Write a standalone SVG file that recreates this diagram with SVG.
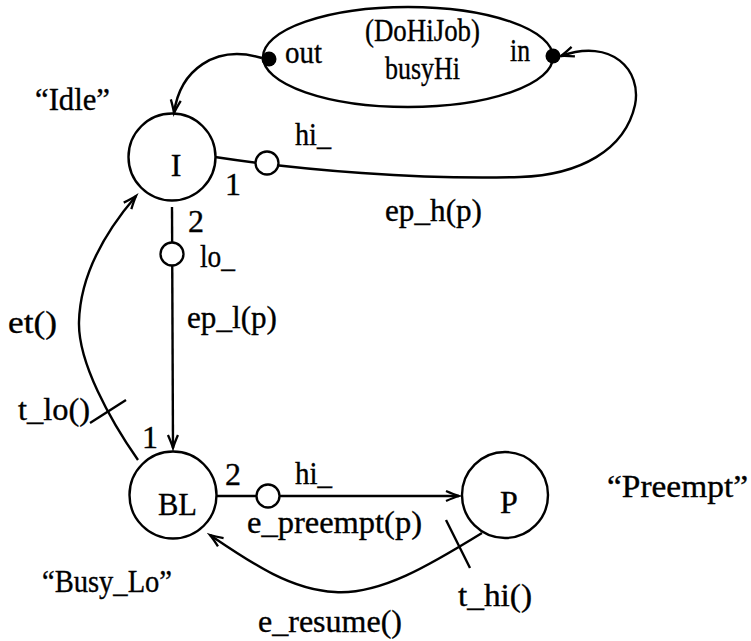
<svg xmlns="http://www.w3.org/2000/svg" width="751" height="641" viewBox="0 0 751 641">
<style>
.t{font-family:'Liberation Serif','DejaVu Serif',serif;font-size:32px;fill:#000}
.t text{stroke:#000;stroke-width:0.35}
.n{fill:none;stroke:#000;stroke-width:2.4}
.c{fill:none;stroke:#000;stroke-width:2.4}
.p{fill:#fff;stroke:#000;stroke-width:2.3}
.mid{text-anchor:middle}
</style>
<defs>
<marker id="arr" markerUnits="userSpaceOnUse" markerWidth="20" markerHeight="16" viewBox="-14 -8 16 16" refX="0" refY="0" orient="auto">
<path d="M-13,-5 Q-5,-1.5 0,0 Q-5,1.5 -13,5" fill="none" stroke="#000" stroke-width="2.3"/>
</marker>
</defs>
<g id="node-busyHi" class="t">
<ellipse class="n" cx="408" cy="57" rx="145" ry="50"/>
<text x="365" y="41" textLength="115" lengthAdjust="spacingAndGlyphs">(DoHiJob)</text>
<text x="385" y="79" textLength="75" lengthAdjust="spacingAndGlyphs">busyHi</text>
<text x="285" y="63" textLength="37" lengthAdjust="spacingAndGlyphs">out</text>
<text x="510" y="61" textLength="20" lengthAdjust="spacingAndGlyphs">in</text>
<circle cx="269" cy="59" r="7.5" fill="#000"/>
<circle cx="553" cy="56" r="7.5" fill="#000"/>
</g>
<g id="node-I" class="t">
<circle class="n" cx="172" cy="157" r="43.5"/>
<text class="mid" x="176" y="176">I</text>
<text x="35" y="110" textLength="75" lengthAdjust="spacingAndGlyphs">“Idle”</text>
</g>
<g id="node-BL" class="t">
<circle class="n" cx="173" cy="495" r="43.5"/>
<text x="158" y="515" textLength="39" lengthAdjust="spacingAndGlyphs">BL</text>
<text x="42" y="592" textLength="130" lengthAdjust="spacingAndGlyphs">“Busy_Lo”</text>
</g>
<g id="node-P" class="t">
<circle class="n" cx="505" cy="495" r="43"/>
<text class="mid" x="509" y="513">P</text>
<text x="607" y="497" textLength="141" lengthAdjust="spacingAndGlyphs">“Preempt”</text>
</g>
<g id="connectors" class="t">
<path class="c" d="M262,58 C215,44 180,70 174,113" marker-end="url(#arr)"/>
<path class="c" d="M215,157 C300,170 420,180 520,177 C580,175 625,150 635,105 C642,70 612,38 561,56" marker-end="url(#arr)"/>
<circle class="p" cx="267" cy="163" r="11.5"/>
<text x="295" y="145" textLength="36" lengthAdjust="spacingAndGlyphs">hi_</text>
<text x="225" y="195">1</text>
<text x="385" y="221" textLength="97" lengthAdjust="spacingAndGlyphs">ep_h(p)</text>
<path class="c" d="M172,207 L173,448" marker-end="url(#arr)"/>
<circle class="p" cx="172" cy="254" r="11.5"/>
<text x="188" y="232">2</text>
<text x="200" y="267" textLength="35" lengthAdjust="spacingAndGlyphs">lo_</text>
<text x="187" y="328" textLength="90" lengthAdjust="spacingAndGlyphs">ep_l(p)</text>
<path class="c" d="M138,460 C110,420 78,362 79,322 C80,280 100,238 136,196" marker-end="url(#arr)"/>
<line class="c" x1="90" y1="423" x2="126" y2="400"/>
<text x="8" y="333" textLength="49" lengthAdjust="spacingAndGlyphs">et()</text>
<text x="18" y="420" textLength="72" lengthAdjust="spacingAndGlyphs">t_lo()</text>
<text x="142" y="448">1</text>
<path class="c" d="M217,496 L459,496" marker-end="url(#arr)"/>
<circle class="p" cx="268" cy="496" r="11.5"/>
<text x="225" y="485">2</text>
<text x="295" y="484" textLength="37" lengthAdjust="spacingAndGlyphs">hi_</text>
<text x="247" y="533" textLength="175" lengthAdjust="spacingAndGlyphs">e_preempt(p)</text>
<path class="c" d="M482,533 C430,565 380,595 335,592 C290,590 250,562 210,535" marker-end="url(#arr)"/>
<line class="c" x1="446" y1="520" x2="470" y2="568"/>
<text x="458" y="606" textLength="74" lengthAdjust="spacingAndGlyphs">t_hi()</text>
<text x="258" y="632" textLength="144" lengthAdjust="spacingAndGlyphs">e_resume()</text>
</g>
</svg>
